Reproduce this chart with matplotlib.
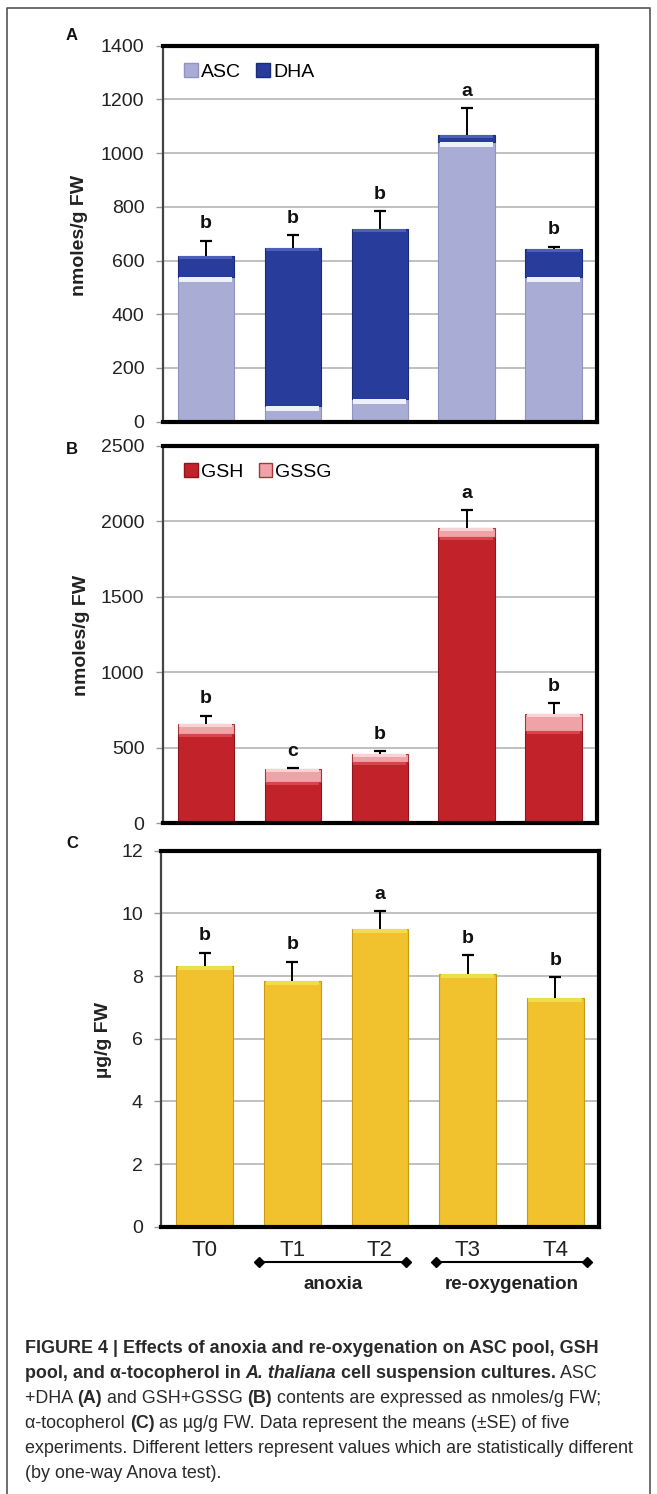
import numpy as np
import matplotlib
matplotlib.use("Agg")
import matplotlib.pyplot as plt
from matplotlib.lines import Line2D
from matplotlib.patches import Patch

# Datos
times = ["T0", "T1", "T2", "T3", "T4"]

asc = [540, 58, 85, 1043, 540]
dha = [77, 590, 631, 25, 102]
asc_err = [57, 46, 69, 99, 10]

gsh = [592, 276, 408, 1900, 612]
gssg = [64, 82, 52, 56, 113]
glut_err = [57, 7, 19, 121, 71]

toco = [8.33, 7.85, 9.50, 8.07, 7.29]
toco_err = [0.42, 0.61, 0.58, 0.60, 0.67]

letters_a = ["b", "b", "b", "a", "b"]
letters_b = ["b", "c", "b", "a", "b"]
letters_c = ["b", "b", "a", "b", "b"]

W, H = 657, 1494
fig = plt.figure(figsize=(W / 100, H / 100), dpi=100)
plt.rcParams["font.family"] = ["Liberation Sans", "DejaVu Sans"]


def fx(x):
    return x / W


def fy(y):
    return 1 - y / H


def make_ax(left, right, top, bottom):
    return fig.add_axes([fx(left), fy(bottom), (right - left) / W, (bottom - top) / H])


def style_ax(ax, ymax, step):
    ax.set_xlim(-0.5, 4.5)
    ax.set_ylim(0, ymax)
    ax.set_yticks(np.arange(0, ymax + step / 2, step))
    ax.set_xticks([])
    ax.yaxis.grid(True, color="#b5b5b5", lw=1.2)
    ax.set_axisbelow(True)
    for s in ["top", "right", "bottom"]:
        ax.spines[s].set_linewidth(3)
        ax.spines[s].set_color("black")
    ax.spines["left"].set_linewidth(1.6)
    ax.spines["left"].set_color("#444444")
    ax.tick_params(axis="y", length=5, width=1, color="#999999", pad=8,
                   labelsize=14, labelcolor="#222222")


def highlight(ax, x, tops, px, color, width):
    # banda clara en la parte alta de cada segmento (efecto bisel)
    ymin, ymax = ax.get_ylim()
    h_px = ax.get_position().height * H
    dy = px * (ymax - ymin) / h_px
    for xi, t in zip(x, tops):
        ax.bar(xi, dy, bottom=t - dy, width=width * 0.94, color=color, lw=0, zorder=3)


def err_up(ax, x, tops, errs):
    # solo la parte superior del error, con tope
    tops = np.asarray(tops)
    ends = tops + np.asarray(errs)
    ax.vlines(x, tops, ends, color="black", lw=1.4, zorder=4)
    ax.plot(x, ends, ls="none", marker="_", ms=9, mew=1.6, color="black", zorder=4)
    return ends


def add_letters(ax, x, tops, letters):
    for xi, t, l in zip(x, tops, letters):
        ax.annotate(l, (xi, t), xytext=(0, 6), textcoords="offset points",
                    ha="center", va="bottom", fontsize=14, fontweight="bold",
                    color="#111111")


x = np.arange(len(times))
bw = 0.65

# ---------- A ----------
axA = make_ax(162.5, 597, 45.7, 421.7)
style_ax(axA, 1400, 200)
axA.bar(x, asc, width=bw, color="#a9add6", edgecolor="#8e93c2", lw=0.8, zorder=2)
axA.bar(x, dha, width=bw, bottom=asc, color="#283c9c", edgecolor="#1c2b78", lw=0.8, zorder=2)
totA = np.array(asc) + np.array(dha)
highlight(axA, x, asc, 5, "#eef0fa", bw)
highlight(axA, x, totA, 3, "#4d5fb8", bw)
add_letters(axA, x, err_up(axA, x, totA, asc_err), letters_a)
axA.legend(handles=[Patch(facecolor="#a9add6", edgecolor="#8e93c2"),
                    Patch(facecolor="#283c9c", edgecolor="#1c2b78")],
           labels=["ASC", "DHA"], loc="upper left", ncol=2, frameon=False,
           fontsize=14, handlelength=0.7, handleheight=0.7, handletextpad=0.15,
           columnspacing=0.8, borderaxespad=0.5, bbox_to_anchor=(0.01, 1.0))

# ---------- B ----------
axB = make_ax(162.5, 597, 446, 823.3)
style_ax(axB, 2500, 500)
axB.bar(x, gsh, width=bw, color="#c2232b", edgecolor="#8f151b", lw=0.8, zorder=2)
axB.bar(x, gssg, width=bw, bottom=gsh, color="#f0a3a6", edgecolor="#a8343a", lw=0.8, zorder=2)
totB = np.array(gsh) + np.array(gssg)
highlight(axB, x, gsh, 3, "#d9454c", bw)
highlight(axB, x, totB, 3, "#f8d3d4", bw)
add_letters(axB, x, err_up(axB, x, totB, glut_err), letters_b)
axB.legend(handles=[Patch(facecolor="#c2232b", edgecolor="#8f151b"),
                    Patch(facecolor="#f0a3a6", edgecolor="#a8343a")],
           labels=["GSH", "GSSG"], loc="upper left", ncol=2, frameon=False,
           fontsize=14, handlelength=0.7, handleheight=0.7, handletextpad=0.15,
           columnspacing=0.8, borderaxespad=0.5, bbox_to_anchor=(0.01, 1.0))

# ---------- C ----------
axC = make_ax(161, 599, 850.7, 1226.7)
style_ax(axC, 12, 2)
axC.bar(x, toco, width=bw, color="#f2c12e", edgecolor="#c99a18", lw=0.8, zorder=2)
highlight(axC, x, toco, 4, "#eede4a", bw)
add_letters(axC, x, err_up(axC, x, toco, toco_err), letters_c)

for xi, t in zip(x, times):
    axC.text(xi, -0.062, t, transform=axC.get_xaxis_transform(), ha="center",
             va="center", fontsize=16, color="#222222")

# corchetes de los periodos
periods = [("anoxia", 0.62, 2.30), ("re-oxygenation", 2.64, 4.36)]
for lab, x0, x1 in periods:
    axC.add_line(Line2D([x0, x1], [-0.095, -0.095], transform=axC.get_xaxis_transform(),
                        color="black", lw=1.5, marker="D", markersize=5,
                        markevery=[0, 1], clip_on=False))
    axC.text((x0 + x1) / 2, -0.155, lab, transform=axC.get_xaxis_transform(),
             ha="center", va="center", fontsize=13.5, fontweight="bold",
             color="#222222")

# etiquetas de paneles y ejes
for lab, yy in [("A", 35), ("B", 450), ("C", 843)]:
    fig.text(fx(72), fy(yy), lab, ha="center", va="center", fontsize=12,
             fontweight="bold", color="#111111")
fig.text(fx(80), fy(235), "nmoles/g FW", rotation=90, ha="center", va="center",
         fontsize=14, fontweight="bold", color="#222222")
fig.text(fx(82), fy(635), "nmoles/g FW", rotation=90, ha="center", va="center",
         fontsize=14, fontweight="bold", color="#222222")
fig.text(fx(103), fy(1040), "µg/g FW", rotation=90, ha="center", va="center",
         fontsize=14, fontweight="bold", color="#222222")

# marco exterior
fig.add_artist(Line2D([fx(7), fx(7), fx(650), fx(650)], [0, fy(8), fy(8), 0],
                      color="#555555", lw=1.2))

# leyenda de la figura (texto con estilos mezclados)
caption = [
    [("FIGURE 4 | Effects of anoxia and re-oxygenation on ASC pool, GSH", "bold", "normal")],
    [("pool, and α-tocopherol in ", "bold", "normal"), ("A. thaliana", "bold", "italic"),
     (" cell suspension cultures.", "bold", "normal"), (" ASC", "normal", "normal")],
    [("+DHA ", "normal", "normal"), ("(A)", "bold", "normal"),
     (" and GSH+GSSG ", "normal", "normal"), ("(B)", "bold", "normal"),
     (" contents are expressed as nmoles/g FW;", "normal", "normal")],
    [("α-tocopherol ", "normal", "normal"), ("(C)", "bold", "normal"),
     (" as µg/g FW. Data represent the means (±SE) of five", "normal", "normal")],
    [("experiments. Different letters represent values which are statistically different",
      "normal", "normal")],
    [("(by one-way Anova test).", "normal", "normal")],
]
line_targets = [593, 616, 614, 578, 605, 210]
renderer = fig.canvas.get_renderer()


def text_width(s, weight, style, size):
    t1 = fig.text(0, 0, "|" + s + "|", fontsize=size, fontweight=weight, fontstyle=style)
    t2 = fig.text(0, 0, "||", fontsize=size, fontweight=weight, fontstyle=style)
    w = t1.get_window_extent(renderer).width - t2.get_window_extent(renderer).width
    t1.remove()
    t2.remove()
    return w


base = 13.5
ratios = []
for line, tgt in zip(caption, line_targets):
    wl = sum(text_width(s, wt, st, base) for s, wt, st in line)
    ratios.append(tgt / wl)
cap_size = base * min(min(ratios), 1.0)

for i, line in enumerate(caption):
    xp = 25
    yp = 1353 + 25 * i
    for s, weight, style in line:
        fig.text(fx(xp), fy(yp), s, fontsize=cap_size, fontweight=weight,
                 fontstyle=style, color="#2a2a2a", va="baseline")
        xp += text_width(s, weight, style, cap_size)

fig.savefig("out.png", dpi=100)
